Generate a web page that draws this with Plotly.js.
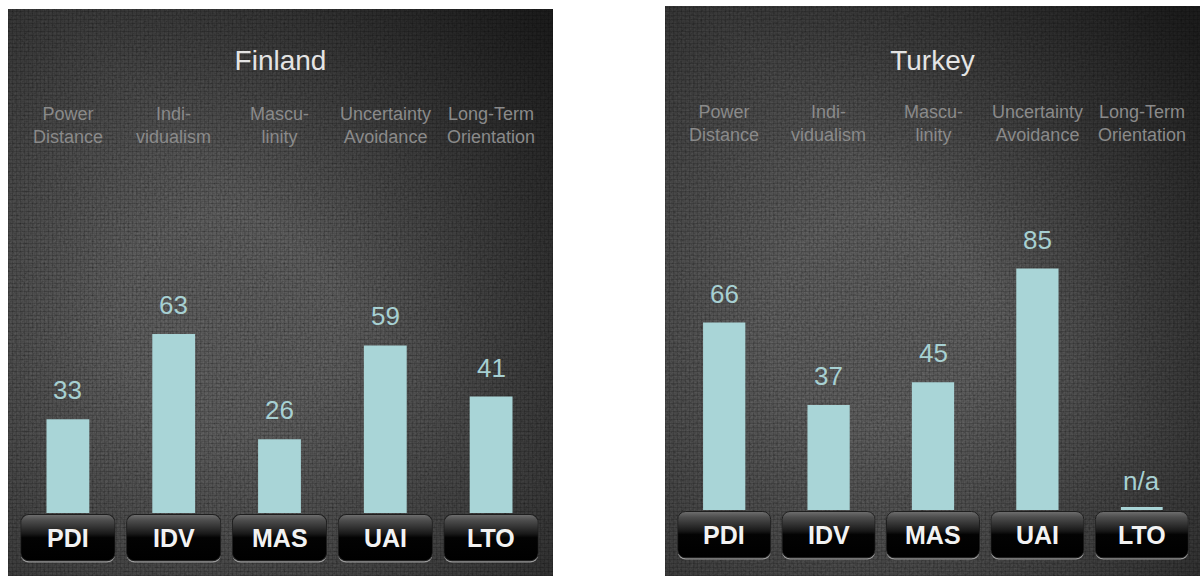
<!DOCTYPE html>
<html>
<head>
<meta charset="utf-8">
<script src="https://cdn.plot.ly/plotly-3.0.1.min.js"></script>
<style>
  html, body { margin: 0; padding: 0; background: #ffffff; width: 1200px; height: 576px; overflow: hidden; }
  .panel {
    position: absolute;
    background-color: #3a3a3a;
    background-image:
      linear-gradient(225deg, rgba(0,0,0,0.40) 0%, rgba(0,0,0,0) 45%),
      radial-gradient(ellipse 80% 75% at 40% 55%, rgba(0,0,0,0) 25%, rgba(0,0,0,0.50) 100%),
      repeating-linear-gradient(0deg, rgba(0,0,0,0.14) 0px, rgba(0,0,0,0.14) 1px, rgba(0,0,0,0) 1px, rgba(0,0,0,0) 4px),
      repeating-linear-gradient(90deg, rgba(0,0,0,0.12) 0px, rgba(0,0,0,0.12) 1px, rgba(0,0,0,0) 1px, rgba(0,0,0,0) 4px),
      url("data:image/svg+xml;utf8,<svg xmlns='http://www.w3.org/2000/svg' width='240' height='240'><filter id='n'><feTurbulence type='fractalNoise' baseFrequency='0.45 0.5' numOctaves='3' stitchTiles='stitch'/><feColorMatrix values='1 0 0 0 0  1 0 0 0 0  1 0 0 0 0  0 0 0 0 0.24'/></filter><rect width='100%' height='100%' filter='url(%23n)'/></svg>");
  }
  #finland { left: 8px; top: 9px; width: 545px; height: 567px; }
  #turkey { left: 665px; top: 6px; width: 535px; height: 570px; }
</style>
</head>
<body>
<div id="finland" class="panel"></div>
<div id="turkey" class="panel"></div>
<script>
// Hofstede cultural dimensions, one panel per country
const dimensions = ['PDI', 'IDV', 'MAS', 'UAI', 'LTO'];
const dimensionNames = [
  'Power<br>Distance',
  'Indi-<br>vidualism',
  'Mascu-<br>linity',
  'Uncertainty<br>Avoidance',
  'Long-Term<br>Orientation'
];
const finlandScores = [33, 63, 26, 59, 41];
const turkeyScores = [66, 37, 45, 85, null];   // LTO not available

const FONT = 'Liberation Sans, Arial, Helvetica, sans-serif';
const BAR_COLOR = '#a9d5d7';
const VALUE_COLOR = '#a7d0d2';

// Glossy black key-cap behind each dimension code
const buttonSvg =
  "<svg xmlns='http://www.w3.org/2000/svg' width='95' height='49' viewBox='0 0 95 49'>" +
  "<defs><linearGradient id='g' x1='0' y1='0' x2='0' y2='1'>" +
  "<stop offset='0' stop-color='#707070'/>" +
  "<stop offset='0.12' stop-color='#4e4e4e'/>" +
  "<stop offset='0.42' stop-color='#181818'/>" +
  "<stop offset='0.5' stop-color='#030303'/>" +
  "<stop offset='1' stop-color='#000000'/>" +
  "</linearGradient></defs>" +
  "<rect x='0.5' y='1' width='94' height='47.5' rx='8' ry='8' fill='#9a9a9a'/>" +
  "<rect x='0.5' y='0.5' width='94' height='46.3' rx='8' ry='8' fill='url(#g)' stroke='#1e1e1e' stroke-width='1'/>" +
  "</svg>";
const buttonSrc = 'data:image/svg+xml;charset=utf-8,' + encodeURIComponent(buttonSvg);

function drawPanel(divId, country, scores, geo) {
  const n = dimensions.length;
  const plotH = geo.height - geo.t - geo.b;

  const annotations = [];
  const images = [];
  const shapes = [];

  dimensions.forEach((dim, i) => {
    // score above each bar (or n/a)
    const v = scores[i];
    annotations.push({
      xref: 'x', yref: 'y', x: dim, y: v === null ? 0 : v,
      text: v === null ? 'n/a' : String(v),
      showarrow: false, yanchor: 'middle', yshift: 29,
      font: { family: FONT, size: 26, color: VALUE_COLOR }
    });
    // dimension name above the plot
    annotations.push({
      xref: 'x', yref: 'paper', x: dim, y: 1,
      text: dimensionNames[i],
      showarrow: false, yanchor: 'middle', yshift: geo.headerShift,
      font: { family: FONT, size: 18, color: '#8a8a8a' }
    });
    // dimension code on its key-cap
    annotations.push({
      xref: 'x', yref: 'y', x: dim, y: 0,
      text: '<b>' + dim + '</b>',
      showarrow: false, yanchor: 'middle', yshift: -25,
      font: { family: FONT, size: 25, color: '#f2f2f2' }
    });
    images.push({
      source: buttonSrc,
      xref: 'paper', yref: 'paper',
      x: (i + 0.5) / n, y: -1 / plotH,
      xanchor: 'center', yanchor: 'top',
      sizex: 0.9 / n, sizey: 49 / plotH,
      sizing: 'stretch', layer: 'above'
    });
    // thin baseline marker where no score exists
    if (v === null) {
      shapes.push({
        type: 'rect', xref: 'x', yref: 'y',
        x0: i - 0.2, x1: i + 0.2,
        ysizemode: 'pixel', yanchor: 0, y0: 0, y1: 3,
        fillcolor: BAR_COLOR, line: { width: 0 }
      });
    }
  });

  const trace = {
    type: 'bar',
    x: dimensions,
    y: scores,
    marker: { color: BAR_COLOR, line: { width: 0 } },
    hoverinfo: 'skip'
  };

  const layout = {
    width: geo.width,
    height: geo.height,
    margin: { l: geo.l, r: geo.r, t: geo.t, b: geo.b, pad: 0 },
    paper_bgcolor: 'rgba(0,0,0,0)',
    plot_bgcolor: 'rgba(0,0,0,0)',
    showlegend: false,
    bargap: 0.595,
    title: {
      text: country,
      font: { family: FONT, size: 28, color: '#e4e4e4' },
      x: 0.5, xanchor: 'center',
      xref: 'container', yref: 'container',
      y: 1 - geo.titleY / geo.height, yanchor: 'middle'
    },
    xaxis: {
      type: 'category', range: [-0.5, n - 0.5],
      showticklabels: false, showgrid: false, zeroline: false, showline: false, ticks: ''
    },
    yaxis: {
      range: [0, 100],
      showticklabels: false, showgrid: false, zeroline: false, showline: false, ticks: ''
    },
    annotations: annotations,
    images: images,
    shapes: shapes
  };

  Plotly.newPlot(divId, [trace], layout, { displayModeBar: false, staticPlot: true });
}

drawPanel('finland', 'Finland', finlandScores,
  { width: 545, height: 567, l: 7, r: 9, t: 220, b: 63, titleY: 51, headerShift: 104 });
drawPanel('turkey', 'Turkey', turkeyScores,
  { width: 535, height: 570, l: 7, r: 6, t: 220, b: 66, titleY: 54, headerShift: 103 });
</script>
</body>
</html>
